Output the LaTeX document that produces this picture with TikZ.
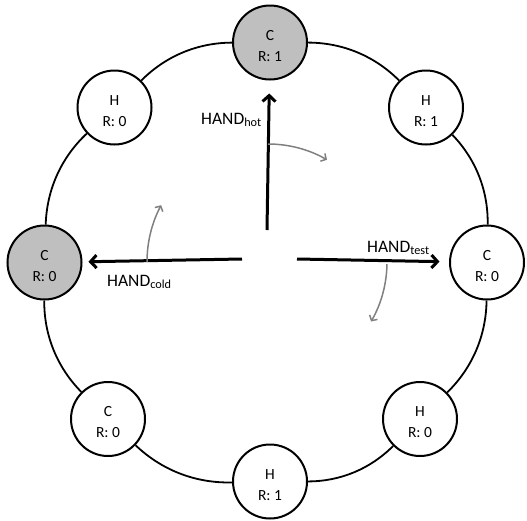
\documentclass[tikz,border=0pt]{standalone}
\usepackage{fontspec}
\setmainfont{Carlito}
\usetikzlibrary{arrows.meta}
\definecolor{stategray}{RGB}{191,191,191}
\definecolor{rotgray}{RGB}{128,128,128}
\newcommand{\topstrut}{\rule{0pt}{17pt}}
\begin{document}
\begin{tikzpicture}[x=1pt,y=-1pt,
  state/.style={circle,draw=black,line width=2pt,minimum size=74pt,inner sep=0pt,fill=white,align=center,font=\fontsize{15.5}{21}\selectfont},
  hotstate/.style={state,fill=stategray},
  ring/.style={line width=1.8pt,bend left=22.5,looseness=0.9},
  hand/.style={line width=3pt,-{Straight Barb[length=6pt,width=13pt]}},
  rot/.style={draw=rotgray,line width=1.5pt,-{Straight Barb[length=4pt,width=9pt]}},
  lbl/.style={font=\fontsize{17.5}{20}\selectfont,inner sep=0pt}]
\useasboundingbox (0,0) rectangle (527,520);
\node[hotstate] (top) at (270,42.5) {\topstrut C\\R: 1};
\node[state] (tr) at (426,107.5) {\topstrut H\\R: 1};
\node[state] (right) at (487,262.5) {\topstrut C\\R: 0};
\node[state] (br) at (420,419) {\topstrut H\\R: 0};
\node[state] (bottom) at (270,481.5) {\topstrut H\\R: 1};
\node[state] (bl) at (108,419) {\topstrut C\\R: 0};
\node[hotstate] (left) at (44.5,262.5) {\topstrut C\\R: 0};
\node[state] (tl) at (114.5,107.5) {\topstrut H\\R: 0};
\draw[ring] (top) to (tr);
\draw[ring] (tr) to (right);
\draw[ring] (right) to (br);
\draw[ring] (br) to (bottom);
\draw[ring] (bottom) to (bl);
\draw[ring] (bl) to (left);
\draw[ring] (left) to (tl);
\draw[ring] (tl) to (top);
\coordinate (ctr) at (268,262);
\coordinate (hotstart) at (267,230);
\coordinate (coldstart) at (242,259);
\coordinate (teststart) at (297,259);
\draw[hand,shorten >=13pt] (hotstart) -- (top);
\draw[hand,shorten >=6pt] (coldstart) -- (left);
\draw[hand,shorten >=9.5pt] (teststart) -- (right);
\node[lbl,anchor=base east] (hotlbl) at (262,124) {HAND\textsubscript{hot}};
\node[lbl,anchor=base west] (coldlbl) at (107,286) {HAND\textsubscript{cold}};
\node[lbl,anchor=base west] (testlbl) at (367,252) {HAND\textsubscript{test}};
\draw[rot] ([shift={(-90:118)}]ctr) arc[start angle=-90,end angle=-60,radius=118];
\draw[rot] ([shift={(-180:121)}]ctr) arc[start angle=-180,end angle=-152,radius=121];
\draw[rot] ([shift={(1:119)}]ctr) arc[start angle=1,end angle=30,radius=119];
\end{tikzpicture}
\end{document}
